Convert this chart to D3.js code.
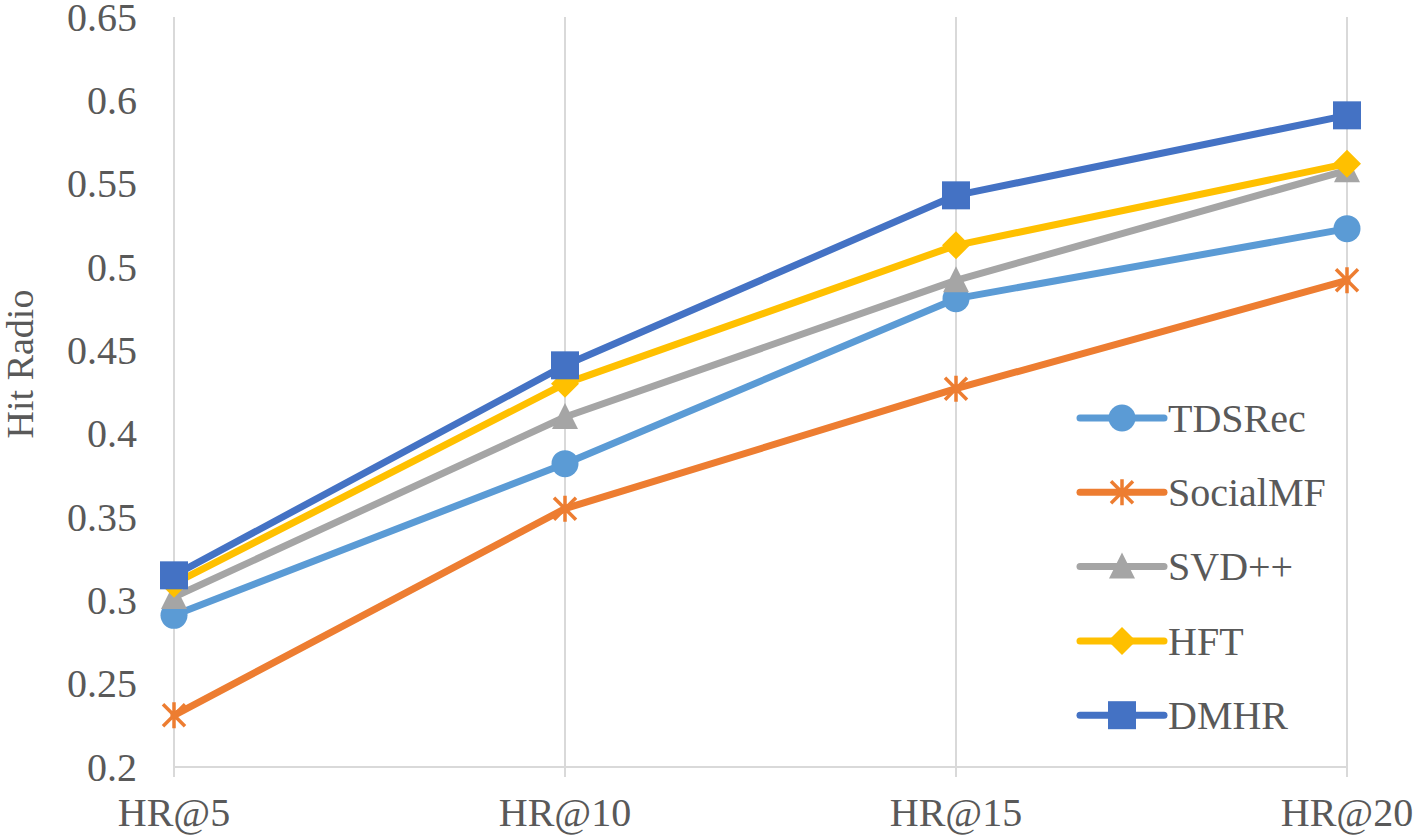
<!DOCTYPE html>
<html>
<head>
<meta charset="utf-8">
<script src="https://cdn.jsdelivr.net/npm/d3@7"></script>
<style>
  body { margin: 0; background: #fff; }
</style>
</head>
<body>
<div id="chart"></div>
<script>
// categories and series values
const categories = ['HR@5', 'HR@10', 'HR@15', 'HR@20'];
const seriesNames = ['TDSRec', 'SocialMF', 'SVD++', 'HFT', 'DMHR'];
const tdsrec   = [0.291, 0.382, 0.481, 0.523];
const socialmf = [0.231, 0.355, 0.427, 0.492];
const svdpp    = [0.302, 0.410, 0.492, 0.558];
const hft      = [0.310, 0.430, 0.513, 0.562];
const dmhr     = [0.315, 0.441, 0.543, 0.591];
const yTicks = [0.2, 0.25, 0.3, 0.35, 0.4, 0.45, 0.5, 0.55, 0.6, 0.65];

const series = [
  { name: seriesNames[0], values: tdsrec,   color: '#5B9BD5', marker: 'circle' },
  { name: seriesNames[1], values: socialmf, color: '#ED7D31', marker: 'star' },
  { name: seriesNames[2], values: svdpp,    color: '#A5A5A5', marker: 'triangle' },
  { name: seriesNames[3], values: hft,      color: '#FFC000', marker: 'diamond' },
  { name: seriesNames[4], values: dmhr,     color: '#4472C4', marker: 'square' }
];

const FONT = '"Liberation Serif", "Times New Roman", Tinos, "DejaVu Serif", serif';
const W = 1418, H = 840;
const svg = d3.select('#chart').append('svg')
  .attr('width', W).attr('height', H)
  .attr('font-family', FONT);

// scales
const x = d3.scalePoint().domain(categories).range([174, 1347]);
const y = d3.scaleLinear().domain([0.2, 0.65]).range([767, 17]);

// vertical gridlines (with tick marks under the axis)
svg.append('g').selectAll('line')
  .data(categories).enter().append('line')
  .attr('x1', d => x(d)).attr('x2', d => x(d))
  .attr('y1', y(0.65)).attr('y2', y(0.2) + 10)
  .attr('stroke', '#D9D9D9').attr('stroke-width', 2);

// category axis line
svg.append('line')
  .attr('x1', x(categories[0])).attr('x2', x(categories[categories.length - 1]))
  .attr('y1', y(0.2)).attr('y2', y(0.2))
  .attr('stroke', '#D9D9D9').attr('stroke-width', 2);

// y tick labels
svg.append('g').selectAll('text')
  .data(yTicks).enter().append('text')
  .attr('x', 137).attr('y', d => y(d)).attr('dy', '0.34em')
  .attr('text-anchor', 'end')
  .attr('font-family', FONT).attr('font-size', 40).attr('fill', '#595959')
  .text(d => d3.format('')(d));

// x tick labels
svg.append('g').selectAll('text')
  .data(categories).enter().append('text')
  .attr('x', d => x(d)).attr('y', 826)
  .attr('text-anchor', 'middle')
  .attr('font-family', FONT).attr('font-size', 40).attr('fill', '#595959')
  .text(d => d);

// y axis title
svg.append('text')
  .attr('transform', 'translate(33,364) rotate(-90)')
  .attr('text-anchor', 'middle')
  .attr('font-family', FONT).attr('font-size', 38).attr('fill', '#595959')
  .text('Hit Radio');

// marker drawing
function drawMarker(g, type, color) {
  if (type === 'circle') {
    g.append('circle').attr('r', 13.5).attr('fill', color);
  } else if (type === 'square') {
    g.append('rect').attr('x', -14).attr('y', -14).attr('width', 28).attr('height', 28)
      .attr('fill', color);
  } else if (type === 'diamond') {
    g.append('path').attr('d', 'M0,-14L14,0L0,14L-14,0Z').attr('fill', color);
  } else if (type === 'triangle') {
    g.append('path').attr('d', 'M0,-14L13,12L-13,12Z').attr('fill', color);
  } else if (type === 'star') {
    g.append('path').attr('d', 'M0,-13L0,13M-11,-11L11,11M-11,11L11,-11')
      .attr('stroke', color).attr('stroke-width', 3.5).attr('fill', 'none');
  }
}

const line = d3.line()
  .x((d, i) => x(categories[i]))
  .y(d => y(d));

series.forEach(s => {
  const g = svg.append('g');
  g.append('path')
    .attr('d', line(s.values))
    .attr('fill', 'none')
    .attr('stroke', s.color)
    .attr('stroke-width', 7)
    .attr('stroke-linejoin', 'round')
    .attr('stroke-linecap', 'round');
  s.values.forEach((v, i) => {
    const m = g.append('g').attr('transform', `translate(${x(categories[i])},${y(v)})`);
    drawMarker(m, s.marker, s.color);
  });
});

// legend
const legend = svg.append('g');
series.forEach((s, i) => {
  const ly = 418 + i * 74.3;
  const row = legend.append('g').attr('transform', `translate(0,${ly})`);
  row.append('line')
    .attr('x1', 1080).attr('x2', 1164).attr('y1', 0).attr('y2', 0)
    .attr('stroke', s.color).attr('stroke-width', 7).attr('stroke-linecap', 'round');
  const m = row.append('g').attr('transform', 'translate(1122,0)');
  drawMarker(m, s.marker, s.color);
  row.append('text')
    .attr('x', 1168).attr('y', 0).attr('dy', '0.34em')
    .attr('font-family', FONT).attr('font-size', 40).attr('fill', '#595959')
    .text(s.name);
});
</script>
</body>
</html>
